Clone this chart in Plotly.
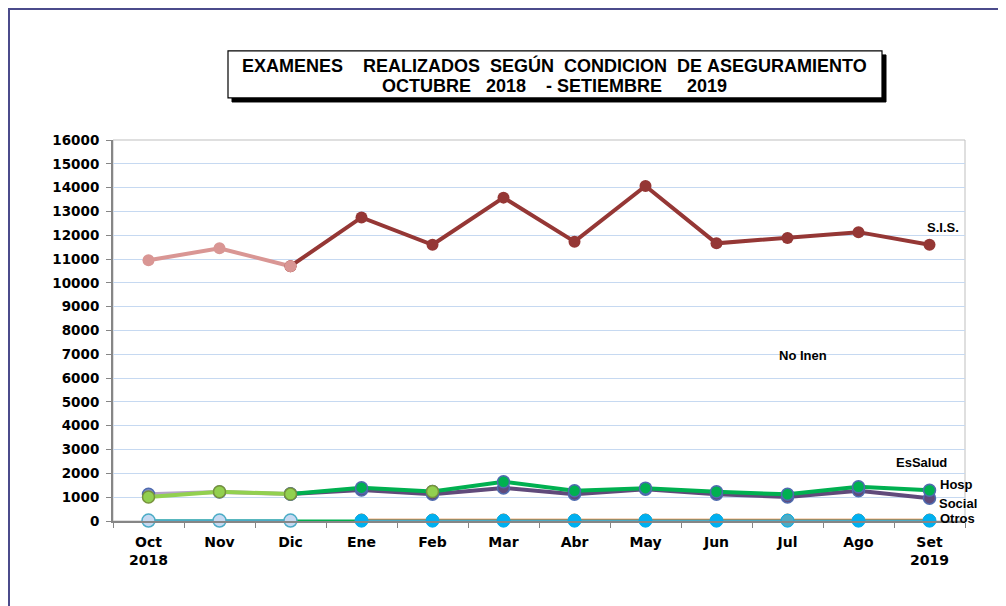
import plotly.graph_objects as go

months = ["Oct", "Nov", "Dic", "Ene", "Feb", "Mar", "Abr", "May", "Jun", "Jul", "Ago", "Set"]
tick_text = ["Oct<br>2018", "Nov", "Dic", "Ene", "Feb", "Mar", "Abr", "May", "Jun", "Jul", "Ago", "Set<br>2019"]

sis = [10950, 11450, 10700, 12750, 11600, 13580, 11730, 14070, 11660, 11880, 12130, 11600]
hosp = [1010, 1230, 1130, 1400, 1240, 1650, 1270, 1380, 1230, 1120, 1440, 1290]
social = [1120, 1220, 1130, 1300, 1120, 1390, 1120, 1330, 1120, 1010, 1270, 960]
otros = [20, 20, 20, 15, 15, 15, 15, 15, 15, 15, 15, 15]
otros_b = [None, None, None, 40, 40, 40, 40, 40, 40, 40, 40, 40]
otros_c = [8, 8, 8, 8, 8, 8, 8, 8, 8, 8, 8, 8]

y_ticks = list(range(0, 16001, 1000))

OFF = 8  # page body margin
W, H = 1006 - OFF, 606 - OFF
L, R, T, B = 113 - OFF, 965 - OFF, 140 - OFF, 520.7 - OFF


def px(x):
    return (x - OFF - L) / (R - L)


def py(y):
    return (B - (y - OFF)) / (B - T)


fig = go.Figure()

common = dict(mode="lines+markers", showlegend=False, cliponaxis=False)

fig.add_trace(go.Scatter(x=months[:3], y=social[:3], **common,
                         line=dict(color="#B3A2C7", width=4),
                         marker=dict(size=12, color="#7F8CC8", line=dict(color="#4F6BAF", width=1.5))))
fig.add_trace(go.Scatter(x=months[2:], y=social[2:], **common,
                         line=dict(color="#604A7B", width=4),
                         marker=dict(size=12, color="#604A7B", line=dict(color="#4F6BAF", width=1.5))))
fig.add_trace(go.Scatter(x=months[2:], y=hosp[2:], **common,
                         line=dict(color="#00B050", width=4),
                         marker=dict(size=12, color="#00B050", line=dict(color="#4F6BAF", width=1.5))))
hosp_prev = [v if i in (0, 1, 2, 4) else None for i, v in enumerate(hosp)]
fig.add_trace(go.Scatter(x=months, y=hosp_prev, connectgaps=False, **common,
                         line=dict(color="#92D050", width=4),
                         marker=dict(size=12, color="#92D050", line=dict(color="#77933C", width=1.5))))
fig.add_trace(go.Scatter(x=months, y=otros_c, mode="lines", showlegend=False, cliponaxis=False,
                         line=dict(color="#00B050", width=2.5)))
fig.add_trace(go.Scatter(x=months, y=otros_b, **common,
                         line=dict(color="#E46C0A", width=2.5),
                         marker=dict(size=12, color="#F79646", line=dict(color="#E46C0A", width=1))))
fig.add_trace(go.Scatter(x=months[:3], y=otros[:3], **common,
                         line=dict(color="#4BACC6", width=2.5),
                         marker=dict(size=13, color="#C6D9F1", line=dict(color="#4BACC6", width=1.5))))
otros_colors = ["#00B0F0"] * 9
otros_colors[6] = "#4BACC6"
fig.add_trace(go.Scatter(x=months[3:], y=otros[3:], **common,
                         line=dict(color="#4BACC6", width=2.5),
                         marker=dict(size=13, color=otros_colors, line=dict(color="#00B0F0", width=1))))
fig.add_trace(go.Scatter(x=months[:3], y=sis[:3], **common,
                         line=dict(color="#D99694", width=4),
                         marker=dict(size=12, color="#D99694")))
fig.add_trace(go.Scatter(x=months[2:], y=sis[2:], **common,
                         line=dict(color="#953735", width=4),
                         marker=dict(size=12, color="#953735")))
fig.add_trace(go.Scatter(x=[months[2]], y=[sis[2]], mode="markers", showlegend=False, cliponaxis=False,
                         marker=dict(size=12, color="#D99694")))

shapes = [
    dict(type="rect", xref="paper", yref="paper", x0=px(9), x1=px(1020), y0=py(620), y1=py(9),
         line=dict(color="#4B4B8B", width=2), fillcolor="rgba(0,0,0,0)", layer="below"),
    dict(type="rect", xref="paper", yref="paper", x0=0, x1=1, y0=0, y1=1,
         line=dict(color="#BFBFBF", width=1), fillcolor="rgba(0,0,0,0)", layer="below"),
    dict(type="rect", xref="paper", yref="paper", x0=px(232), x1=px(886), y0=py(102), y1=py(55),
         line=dict(color="black", width=1), fillcolor="black"),
    dict(type="rect", xref="paper", yref="paper", x0=px(228), x1=px(882), y0=py(98), y1=py(51),
         line=dict(color="black", width=1.2), fillcolor="white"),
]

ann_font = dict(family="Liberation Sans, Arial", size=13, color="black")
title_font = dict(family="Liberation Sans, Arial", size=18, color="black")
nb = "\u00a0"
annotations = [
    dict(text="<b>EXAMENES" + nb * 4 + "REALIZADOS" + nb * 2 + "SEGÚN" + nb * 2 + "CONDICION" + nb * 2
         + "DE" + nb + "ASEGURAMIENTO</b>",
         x=px(554), y=py(66), font=title_font),
    dict(text="<b>OCTUBRE" + nb * 3 + "2018" + nb * 4 + "-" + nb + "SETIEMBRE" + nb * 5 + "2019</b>",
         x=px(554), y=py(86), font=title_font),
    dict(text="<b>S.I.S.</b>", x=px(943), y=py(227), font=ann_font),
    dict(text="<b>No Inen</b>", x=px(803), y=py(355), font=ann_font),
    dict(text="<b>EsSalud</b>", x=px(921), y=py(462), font=ann_font),
    dict(text="<b>Hosp</b>", x=px(956), y=py(484), font=ann_font),
    dict(text="<b>Social</b>", x=px(958), y=py(503), font=ann_font),
    dict(text="<b>Otros</b>", x=px(957), y=py(518), font=ann_font),
]
for a in annotations:
    a.update(xref="paper", yref="paper", showarrow=False, xanchor="center", yanchor="middle")

fig.update_layout(
    width=W, height=H,
    margin=dict(l=L, r=W - R, t=T, b=H - B, autoexpand=False),
    paper_bgcolor="white", plot_bgcolor="white",
    shapes=shapes, annotations=annotations,
    showlegend=False,
)
fig.update_xaxes(
    type="category", categoryorder="array", categoryarray=months,
    tickvals=months, ticktext=[f"<b>{t}</b>" for t in tick_text], tickson="boundaries",
    ticks="outside", ticklen=5, tickcolor="#868686",
    showline=True, linecolor="#868686", linewidth=2,
    showgrid=False, zeroline=False, ticklabelstandoff=7,
    tickfont=dict(family="DejaVu Sans", size=14, color="black"),
    range=[-0.5, 11.5],
)
fig.update_yaxes(
    range=[0, 16000], tickvals=y_ticks, ticktext=[f"<b>{v}</b>" for v in y_ticks],
    ticks="outside", ticklen=5, tickcolor="#868686",
    showline=True, linecolor="#868686", linewidth=2, ticklabelstandoff=4,
    showgrid=True, gridcolor="#C6D9F1", gridwidth=1, zeroline=False,
    tickfont=dict(family="DejaVu Sans", size=13.5, color="black"),
)

fig.write_html("out.html")
